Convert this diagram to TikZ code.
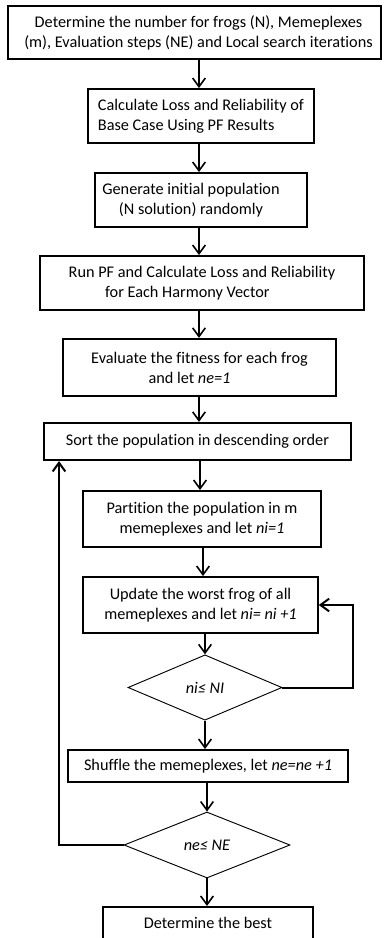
\documentclass[tikz,border=0pt]{standalone}
\usepackage{fontspec}
\setmainfont{Carlito}[Ligatures=NoCommon]
\usetikzlibrary{arrows.meta,positioning,shapes.geometric}

\begin{document}
\begin{tikzpicture}[
    x=0.75pt, y=-0.75pt,
    block/.style={draw, line width=1.4pt, inner sep=0pt, font=\fontsize{12.2}{15}\selectfont, align=center},
    decision/.style={diamond, draw, line width=0.7pt, inner sep=0pt, font=\fontsize{12.2}{15}\selectfont\itshape},
    arrow/.style={-{Straight Barb[length=6.5pt,width=9.5pt]}, line width=1.2pt},
    backline/.style={-{Straight Barb[length=6.5pt,width=9.5pt]}, line width=1.5pt}
]
    \useasboundingbox (0,0) rectangle (383,938);

    \node[block, minimum width=280pt, minimum height=40pt] (init) at (194.5,32.5)
        {\hspace*{6pt}Determine the number for frogs (N), Memeplexes\\\hspace*{6pt}(m), Evaluation steps (NE) and Local search iterations};
    \node[block, align=left, minimum width=169.5pt, minimum height=40.5pt] (base) at (201,116)
        {Calculate Loss and Reliability of\\Base Case Using PF Results};
    \node[block, minimum width=159pt, minimum height=40.5pt] (genpop) at (201,200)
        {Generate initial population\hspace*{15pt}\\(N solution) randomly\hspace*{15pt}};
    \node[block, minimum width=243pt, minimum height=40.5pt] (runpf) at (202,283)
        {Run PF and Calculate Loss and Reliability\\for Each Harmony Vector\hspace*{22pt}};
    \node[block, minimum width=205pt, minimum height=43pt] (fitness) at (199.5,367.5)
        {Evaluate the fitness for each frog\\and let \textit{ne=1}\hspace*{15pt}};
    \node[block, minimum width=230pt, minimum height=28pt] (sortpop) at (197.5,441.5)
        {Sort the population in descending order};
    \node[block, minimum width=178.5pt, minimum height=42pt] (partition) at (202,519)
        {Partition the population in m\\memeplexes and let \textit{ni=1}};
    \node[block, minimum width=176pt, minimum height=42pt] (update) at (200.5,605)
        {Update the worst frog of all\\memeplexes and let \textit{ni= ni +1}};
    \node[decision, minimum width=115.5pt, minimum height=49pt] (chkni) at (205,687.5)
        {ni≤ NI};
    \node[block, minimum width=210pt, minimum height=24pt] (shuffle) at (208,766)
        {Shuffle the memeplexes, let \textit{ne=ne +1}};
    \node[decision, minimum width=124.5pt, minimum height=49.5pt] (chkne) at (207,845)
        {ne≤ NE};
    \node[block, anchor=north, minimum width=157.5pt, text height=16.5pt, text depth=24pt] (best) at (208,906)
        {Determine the best};

    \draw[arrow] (init.south -| 199,0) -- (base.north -| 199,0);
    \draw[arrow] (base.south -| 199,0) -- (genpop.north -| 199,0);
    \draw[arrow] (genpop.south -| 199,0) -- (runpf.north -| 199,0);
    \draw[arrow] (runpf.south -| 199,0) -- (fitness.north -| 199,0);
    \draw[arrow] (fitness.south -| 199,0) -- (sortpop.north -| 199,0);
    \draw[arrow] (sortpop.south -| 200,0) -- (partition.north -| 200,0);
    \draw[arrow] (partition.south -| 203,0) -- (update.north -| 203,0);
    \draw[arrow] (update.south -| chkni.north) -- (chkni.north);
    \draw[arrow] (chkni.south) -- (shuffle.north -| chkni.south);
    \draw[arrow] (shuffle.south -| chkne.north) -- (chkne.north);
    \draw[arrow] (chkne.south) -- (best.north -| chkne.south);

    % feedback loops
    \draw[backline] (chkni.east) -- (353,687.5) |- (update.east);
    \draw[backline] (chkne.west) -| (59,0 |- sortpop.south);
\end{tikzpicture}
\end{document}
